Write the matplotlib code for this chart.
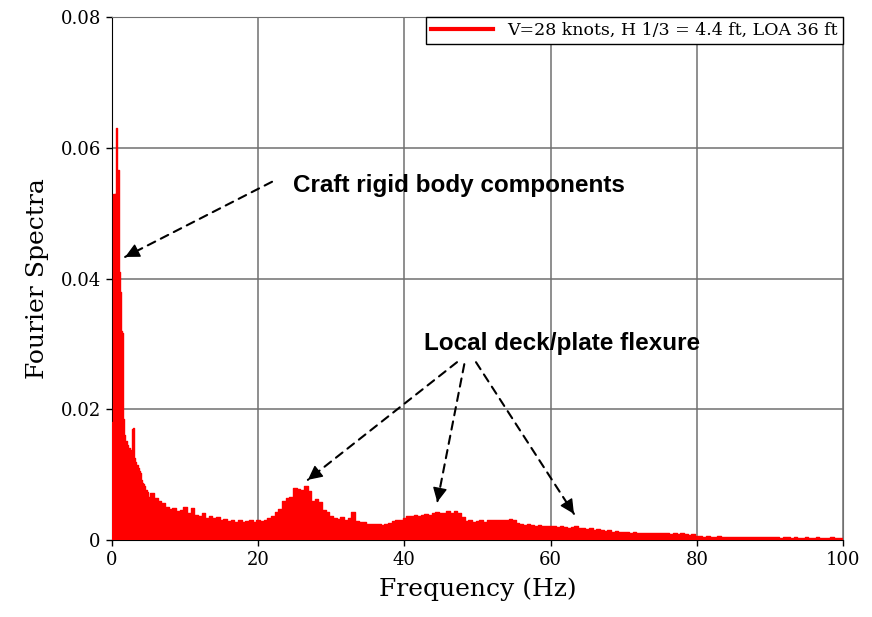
import numpy as np
import matplotlib
matplotlib.use("Agg")
import matplotlib.pyplot as plt

# spectrum bins: fine resolution around the rigid body peak, coarser above 5 Hz
rigid_freq = np.arange(0.0, 5.01, 0.1)
rigid_amp = [
    0.0175, 0.0180, 0.0530, 0.0530, 0.0520, 0.0530, 0.0630, 0.0620, 0.0566, 0.0566,
    0.0410, 0.0410, 0.0380, 0.0320, 0.0317, 0.0187, 0.0185, 0.0160, 0.0155, 0.0148,
    0.0152, 0.0145, 0.0140, 0.0138, 0.0140, 0.0137, 0.0132, 0.0128, 0.0170, 0.0172,
    0.0170, 0.0125, 0.0120, 0.0118, 0.0115, 0.0114, 0.0110, 0.0108, 0.0106, 0.0102,
    0.0092, 0.0090, 0.0087, 0.0086, 0.0085, 0.0082, 0.0077, 0.0076, 0.0074, 0.0073,
    0.0066,
]

tail_freq = np.arange(5.5, 100.01, 0.5)
tail_amp = [
    0.0072, 0.0064, 0.0060, 0.0056, 0.0050, 0.0047, 0.0049, 0.0044, 0.0046, 0.0050,
    0.0042, 0.0049, 0.0038, 0.0036, 0.0041, 0.0034, 0.0037, 0.0033, 0.0035, 0.0031,
    0.0032, 0.0029, 0.0031, 0.0028, 0.0030, 0.0027, 0.0029, 0.0031, 0.0028, 0.0030,
    0.0029, 0.0030, 0.0033, 0.0037, 0.0043, 0.0048, 0.0059, 0.0064, 0.0066, 0.0079,
    0.0078, 0.0077, 0.0082, 0.0075, 0.0060, 0.0062, 0.0058, 0.0046, 0.0043, 0.0037,
    0.0034, 0.0032, 0.0035, 0.0031, 0.0033, 0.0043, 0.0029, 0.0028, 0.0027, 0.0025,
    0.0024, 0.0025, 0.0024, 0.0023, 0.0025, 0.0026, 0.0029, 0.0031, 0.0030, 0.0033,
    0.0037, 0.0036, 0.0038, 0.0037, 0.0039, 0.0040, 0.0039, 0.0041, 0.0043, 0.0042,
    0.0041, 0.0044, 0.0042, 0.0044, 0.0041, 0.0035, 0.0029, 0.0030, 0.0028, 0.0029,
    0.0030, 0.0028, 0.0030, 0.0031, 0.0030, 0.0031, 0.0030, 0.0031, 0.0032, 0.0031,
    0.0026, 0.0024, 0.0023, 0.0024, 0.0023, 0.0022, 0.0023, 0.0022, 0.0021, 0.0022,
    0.0021, 0.0020, 0.0021, 0.0020, 0.0019, 0.0020, 0.0021, 0.0019, 0.0018, 0.0017,
    0.0018, 0.0016, 0.0017, 0.0015, 0.0014, 0.0015, 0.0013, 0.0014, 0.0013, 0.0012,
    0.0012, 0.0011, 0.0012, 0.0011, 0.0010, 0.0011, 0.0010, 0.0011, 0.0010, 0.0010,
    0.0011, 0.0010, 0.0009, 0.0010, 0.0009, 0.0010, 0.0009, 0.0008, 0.0009, 0.0006,
    0.0006, 0.0005, 0.0006, 0.0005, 0.0005, 0.0006, 0.0005, 0.0005, 0.0004, 0.0005,
    0.0005, 0.0004, 0.0005, 0.0004, 0.0004, 0.0005, 0.0004, 0.0004, 0.0004, 0.0004,
    0.0004, 0.0004, 0.0003, 0.0004, 0.0004, 0.0003, 0.0004, 0.0003, 0.0003, 0.0004,
    0.0003, 0.0003, 0.0004, 0.0003, 0.0003, 0.0003, 0.0004, 0.0003, 0.0003, 0.0003,
]

x_ticks = [0, 20, 40, 60, 80, 100]
y_ticks = [0, 0.02, 0.04, 0.06, 0.08]
y_tick_labels = ["0", "0.02", "0.04", "0.06", "0.08"]
legend_label = "V=28 knots, H 1/3 = 4.4 ft, LOA 36 ft"

freq = np.concatenate([rigid_freq, tail_freq])
amp = np.concatenate([rigid_amp, tail_amp])

fig = plt.figure(figsize=(8.72, 6.17), dpi=100)
ax = fig.add_axes([0.1284, 0.1248, 0.8383, 0.8476])

ax.fill_between(freq, 0, amp, step="mid", color="red", linewidth=0, zorder=3)
line, = ax.step(freq, amp, where="mid", color="red", linewidth=1.0, zorder=3)

ax.set_xlim(0, 100)
ax.set_ylim(0, 0.08)
ax.set_xticks(x_ticks)
ax.set_yticks(y_ticks)
ax.set_yticklabels(y_tick_labels)
ax.grid(True, color="#707070", linewidth=1.1)
ax.set_axisbelow(True)

serif = "DejaVu Serif"
ax.tick_params(direction="out", length=4, width=1, labelsize=13, pad=4)
for lab in ax.get_xticklabels() + ax.get_yticklabels():
    lab.set_family(serif)
ax.set_xlabel("Frequency (Hz)", family=serif, fontsize=18, labelpad=6)
ax.set_ylabel("Fourier Spectra", family=serif, fontsize=18, labelpad=8)

for side in ("top", "right"):
    ax.spines[side].set_color("#707070")
for side in ("left", "bottom"):
    ax.spines[side].set_color("black")

leg = ax.legend([line], [legend_label], loc="upper right", borderaxespad=0,
                fancybox=False, handlelength=3.6, framealpha=1,
                borderpad=0.3, prop={"family": serif, "size": 12.5})
leg.get_frame().set_edgecolor("black")
leg.get_frame().set_linewidth(1.0)
leg.get_lines()[0].set_linewidth(3)

dash_style = dict(arrowstyle="-", linestyle=(0, (4, 3)), color="black",
                  linewidth=1.5, shrinkA=0, shrinkB=0)
head_style = dict(arrowstyle="-|>", color="black", linewidth=1.0,
                  mutation_scale=22, shrinkA=0, shrinkB=0)


def dashed_arrow(target, source):
    # dashed shaft plus a solid head at the target end
    ax.annotate("", xy=target, xytext=source, arrowprops=dash_style)
    back = (target[0] + 0.02 * (source[0] - target[0]),
            target[1] + 0.02 * (source[1] - target[1]))
    ax.annotate("", xy=target, xytext=back, arrowprops=head_style)


bold = dict(family="Liberation Sans", fontweight="bold", fontsize=17.5,
            ha="center", va="center")

ax.text(47.5, 0.0543, "Craft rigid body components", **bold)
dashed_arrow((1.8, 0.0433), (21.9, 0.0548))

ax.text(61.6, 0.0300, "Local deck/plate flexure", **bold)
deck_targets = [(26.8, 0.0092), (44.5, 0.0058), (63.2, 0.0040)]
deck_sources = [(47.2, 0.0272), (48.2, 0.0269), (49.8, 0.0272)]
for target, source in zip(deck_targets, deck_sources):
    dashed_arrow(target, source)

fig.savefig("out.png", dpi=100)
